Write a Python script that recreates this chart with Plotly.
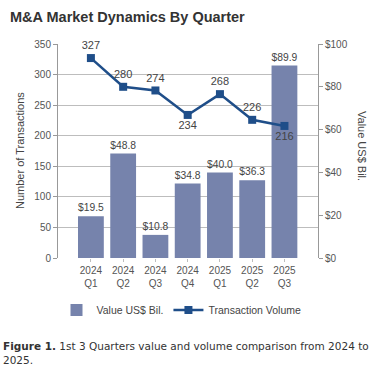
import plotly.graph_objects as go

quarters = ["2024<br>Q1", "2024<br>Q2", "2024<br>Q3", "2024<br>Q4", "2025<br>Q1", "2025<br>Q2", "2025<br>Q3"]
value_bil = [19.5, 48.8, 10.8, 34.8, 40.0, 36.3, 89.9]
volume = [327, 280, 274, 234, 268, 226, 216]
volume_label_pos = ["top center", "top center", "top center", "bottom center", "top center", "top center", "bottom center"]

left_ticks = [0, 50, 100, 150, 200, 250, 300, 350]
right_ticks = [0, 20, 40, 60, 80, 100]
right_tick_text = ["$" + str(v) for v in right_ticks]

W, H = 390, 380
L, R, T, B = 58, 318, 44, 258

def px(x):
    return (x - L) / (R - L)

def py(y):
    return (B - y) / (B - T)

fig = go.Figure()
fig.add_trace(go.Bar(
    x=quarters, y=value_bil, name="Value US$ Bil.",
    marker=dict(color="#7683AC", line=dict(width=0)),
    width=0.8,
    text=["$%.1f" % v for v in value_bil], textposition="outside",
    textfont=dict(family="Liberation Sans, Arial", size=11, color="#444"),
    cliponaxis=False, yaxis="y",
))
fig.add_trace(go.Scatter(
    x=quarters, y=volume, name="Transaction Volume", yaxis="y2",
    mode="lines+markers+text",
    line=dict(color="#1F4E89", width=2.5),
    marker=dict(symbol="square", size=8, color="#1F4E89"),
    text=[str(v) for v in volume], textposition=volume_label_pos,
    textfont=dict(family="Liberation Sans, Arial", size=11, color="#444"),
    cliponaxis=False,
))

axis_font = dict(family="Liberation Sans, Arial", size=10, color="#555")
fig.update_layout(
    width=W, height=H,
    margin=dict(l=L, r=W - R, t=T, b=H - B, pad=0),
    paper_bgcolor="white", plot_bgcolor="white",
    font=dict(family="Liberation Sans, Arial", color="#444"),
    showlegend=True,
    bargap=0.2,
    legend=dict(orientation="h", x=0.475, xanchor="center", y=py(310), yanchor="middle",
                font=dict(family="Liberation Sans, Arial", size=10.5, color="#444"),
                itemwidth=30, traceorder="normal"),
    xaxis=dict(range=[-1.02, 7.04], showgrid=False, showline=False,
               ticks="outside", ticklen=3, tickcolor="#BDBDBD",
               tickfont=axis_font, zeroline=False),
    yaxis=dict(side="right", range=[0, 100], tickvals=right_ticks, ticktext=right_tick_text,
               showgrid=False, showline=True, linecolor="#999", linewidth=1,
               ticks="outside", ticklen=4, tickcolor="#999", tickfont=axis_font, zeroline=False),
    yaxis2=dict(side="left", overlaying="y", range=[0, 350], tickvals=left_ticks,
                showgrid=True, gridcolor="#BDBDBD", gridwidth=1,
                showline=True, linecolor="#999", linewidth=1,
                ticks="outside", ticklen=4, tickcolor="#999", tickfont=axis_font, zeroline=False),
    annotations=[
        dict(text="<b>M&A Market Dynamics By Quarter</b>", xref="paper", yref="paper",
             x=px(8), y=py(17), xanchor="left", yanchor="middle",
             showarrow=False, font=dict(family="Liberation Sans, Arial", size=14.5, color="#333")),
        dict(text="Number of Transactions", xref="paper", yref="paper",
             x=px(20), y=0.5, textangle=-90, xanchor="center", yanchor="middle",
             showarrow=False, font=dict(family="Liberation Sans, Arial", size=11, color="#444")),
        dict(text="Value US$ Bil.", xref="paper", yref="paper",
             x=px(362), y=py(146), textangle=90, xanchor="center", yanchor="middle",
             showarrow=False, font=dict(family="Liberation Sans, Arial", size=11, color="#444")),
        dict(text="<b>Figure 1.</b> 1st 3 Quarters value and volume comparison from 2024 to<br>2025.",
             xref="paper", yref="paper", x=px(1), y=py(353),
             xanchor="left", yanchor="middle", align="left", showarrow=False,
             font=dict(family="DejaVu Sans, Verdana", size=10.5, color="#333")),
    ],
)

fig.write_html("out.html", config={"displayModeBar": False},
               post_script="document.body.style.margin='0';")
